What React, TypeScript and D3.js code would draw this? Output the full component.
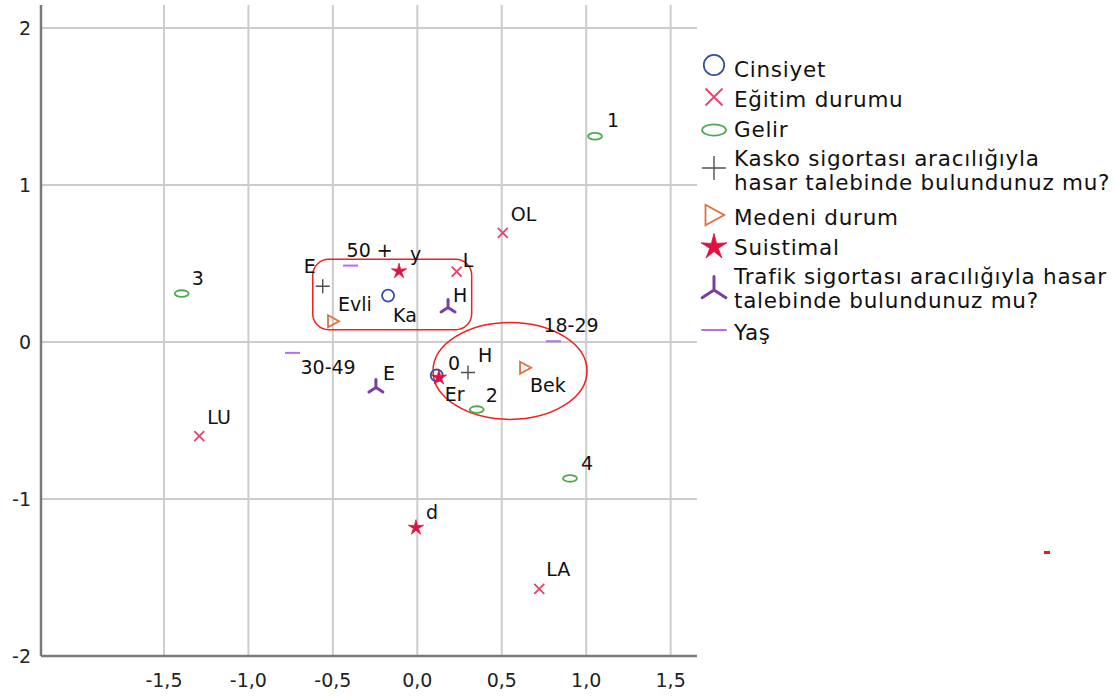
import * as d3 from "d3";

type Pt = { label: string; x: number; y: number };

// series (categories of each variable)
const cinsiyet: Pt[] = [
  { label: "Ka", x: -0.173, y: 0.296 },
  { label: "Er", x: 0.115, y: -0.213 },
];
const egitim: Pt[] = [
  { label: "OL", x: 0.506, y: 0.696 },
  { label: "L", x: 0.233, y: 0.449 },
  { label: "LU", x: -1.291, y: -0.6 },
  { label: "LA", x: 0.722, y: -1.572 },
];
const gelir: Pt[] = [
  { label: "1", x: 1.052, y: 1.311 },
  { label: "3", x: -1.395, y: 0.309 },
  { label: "2", x: 0.352, y: -0.43 },
  { label: "4", x: 0.904, y: -0.869 },
];
const kasko: Pt[] = [
  { label: "E", x: -0.56, y: 0.355 },
  { label: "H", x: 0.3, y: -0.194 },
];
const medeni: Pt[] = [
  { label: "Evli", x: -0.499, y: 0.132 },
  { label: "Bek", x: 0.638, y: -0.164 },
];
const suistimal: Pt[] = [
  { label: "y", x: -0.108, y: 0.451 },
  { label: "d", x: -0.008, y: -1.183 },
  { label: "0", x: 0.128, y: -0.226 },
];
const trafik: Pt[] = [
  { label: "H", x: 0.182, y: 0.22 },
  { label: "E", x: -0.245, y: -0.29 },
];
const yas: Pt[] = [
  { label: "50 +", x: -0.395, y: 0.487 },
  { label: "30-49", x: -0.739, y: -0.069 },
  { label: "18-29", x: 0.806, y: 0.005 },
];

const xTicks = [-1.5, -1.0, -0.5, 0, 0.5, 1.0, 1.5];
const yTicks = [2, 1, 0, -1, -2];

type Kind = "circle" | "x" | "ellipse" | "plus" | "tri" | "star" | "spoke" | "dash";

const series: { name: string[]; kind: Kind; color: string; pts: Pt[]; key: string }[] = [
  { key: "cin", name: ["Cinsiyet"], kind: "circle", color: "#3b4ea0", pts: cinsiyet },
  { key: "egi", name: ["Eğitim durumu"], kind: "x", color: "#e6416a", pts: egitim },
  { key: "gel", name: ["Gelir"], kind: "ellipse", color: "#4cab4c", pts: gelir },
  {
    key: "kas",
    name: ["Kasko sigortası aracılığıyla", "hasar talebinde bulundunuz mu?"],
    kind: "plus",
    color: "#505050",
    pts: kasko,
  },
  { key: "med", name: ["Medeni durum"], kind: "tri", color: "#e0703c", pts: medeni },
  { key: "sui", name: ["Suistimal"], kind: "star", color: "#e0103f", pts: suistimal },
  {
    key: "tra",
    name: ["Trafik sigortası aracılığıyla hasar", "talebinde bulundunuz mu?"],
    kind: "spoke",
    color: "#7a3f9e",
    pts: trafik,
  },
  { key: "yas", name: ["Yaş"], kind: "dash", color: "#b46ef0", pts: yas },
];

// label placement (px offsets from the point, label left / baseline)
const labelOffset: Record<string, [number, number]> = {
  "cin:Ka": [5, 26],
  "cin:Er": [8, 26],
  "egi:OL": [8, -12],
  "egi:L": [6, -5],
  "egi:LU": [8, -12],
  "egi:LA": [7, -13],
  "gel:1": [12, -9],
  "gel:3": [10, -9],
  "gel:2": [9, -8],
  "gel:4": [11, -8],
  "kas:E": [-19, -13],
  "kas:H": [10, -10],
  "med:Evli": [5, -10],
  "med:Bek": [5, 24],
  "sui:y": [11, -10],
  "sui:d": [10, -9],
  "sui:0": [9, -8],
  "tra:H": [5, -6],
  "tra:E": [7, -8],
  "yas:50 +": [-4, -9],
  "yas:30-49": [8, 21],
  "yas:18-29": [-10, -9],
};

const W = 1113;
const H = 697;
const plot = { left: 41, right: 697, top: 5, bottom: 656 };
const font = "'DejaVu Sans', sans-serif";

const x = d3.scaleLinear().domain([-2.228, 1.656]).range([plot.left, plot.right]);
const y = d3.scaleLinear().domain([-2, 2.147]).range([plot.bottom, plot.top]);

const fmt = (v: number) => d3.format(".1f")(v).replace(".", ",").replace("−", "-");

function starPath(r: number, ri: number) {
  const pts: [number, number][] = [];
  for (let i = 0; i < 10; i++) {
    const a = (Math.PI / 5) * i - Math.PI / 2;
    const rr = i % 2 === 0 ? r : ri;
    pts.push([Math.cos(a) * rr, Math.sin(a) * rr]);
  }
  return d3.line()(pts) + "Z";
}

function Marker({ kind, color, s }: { kind: Kind; color: string; s: number }) {
  switch (kind) {
    case "circle":
      return <circle r={6 * s} fill="none" stroke={color} strokeWidth={1.8} />;
    case "x":
      return (
        <path
          d={`M${-5 * s},${-5 * s}L${5 * s},${5 * s}M${-5 * s},${5 * s}L${5 * s},${-5 * s}`}
          stroke={color}
          strokeWidth={1.8}
        />
      );
    case "ellipse":
      return <ellipse rx={7 * s} ry={3.3 * s} fill="none" stroke={color} strokeWidth={1.8} />;
    case "plus":
      return (
        <path
          d={`M${-7 * s},0L${7 * s},0M0,${-7 * s}L0,${7 * s}`}
          stroke={color}
          strokeWidth={1.4}
        />
      );
    case "tri":
      return (
        <path
          d={`M${-5 * s},${-6 * s}L${6 * s},0L${-5 * s},${6 * s}Z`}
          fill="none"
          stroke={color}
          strokeWidth={1.8}
        />
      );
    case "star":
      return (
        <path
          d={starPath(8 * s, 2.6 * s)}
          fill={color}
          stroke={color}
          strokeWidth={0.8}
          strokeLinejoin="round"
        />
      );
    case "spoke":
      return (
        <path
          d={`M0,0L0,${-8 * s}M0,0L${-7 * s},${4.5 * s}M0,0L${7 * s},${4.5 * s}`}
          stroke={color}
          strokeWidth={3}
          strokeLinecap="round"
        />
      );
    case "dash":
      return <path d={`M${-7.5 * s},0L${7.5 * s},0`} stroke={color} strokeWidth={2} />;
  }
}

// legend rows: baseline of first line per item
const legendTop = [77, 107, 137, 166, 225, 255, 284, 340];
const legendMarkerY = [65, 97, 130, 168, 215, 247, 290, 330];

export default function App() {
  // red annotation shapes (data units)
  const boxX0 = x(-0.619);
  const boxX1 = x(0.322);
  const boxY0 = y(0.527);
  const boxY1 = y(0.079);
  const ell = { cx: x(0.549), cy: y(-0.184), rx: x(0.456) - x(0), ry: y(0) - y(0.309) };

  return (
    <svg
      width={W}
      height={H}
      style={{ position: "absolute", left: 0, top: 0, background: "#fff" }}
      fontFamily={font}
    >
      {/* grid */}
      {yTicks.map((t) => (
        <line
          key={"gy" + t}
          x1={plot.left}
          x2={plot.right}
          y1={y(t)}
          y2={y(t)}
          stroke="#cccccc"
          strokeWidth={2}
        />
      ))}
      {xTicks.map((t) => (
        <line
          key={"gx" + t}
          x1={x(t)}
          x2={x(t)}
          y1={plot.top}
          y2={plot.bottom}
          stroke="#cccccc"
          strokeWidth={2}
        />
      ))}
      {/* axes */}
      <line x1={plot.left} x2={plot.left} y1={plot.top} y2={plot.bottom} stroke="#7a7a7a" strokeWidth={2.5} />
      <line x1={plot.left} x2={plot.right} y1={plot.bottom} y2={plot.bottom} stroke="#7a7a7a" strokeWidth={2.5} />
      {yTicks.map((t) => (
        <text key={"ty" + t} x={31} y={y(t)} dy="0.36em" textAnchor="end" fontSize={19} fill="#222">
          {String(t)}
        </text>
      ))}
      {xTicks.map((t) => (
        <text key={"tx" + t} x={x(t)} y={687} textAnchor="middle" fontSize={19} fill="#222">
          {fmt(t)}
        </text>
      ))}

      {/* annotations */}
      <rect
        x={boxX0}
        y={boxY0}
        width={boxX1 - boxX0}
        height={boxY1 - boxY0}
        rx={16}
        fill="none"
        stroke="#f02020"
        strokeWidth={1.5}
      />
      <ellipse cx={ell.cx} cy={ell.cy} rx={ell.rx} ry={ell.ry} fill="none" stroke="#f02020" strokeWidth={1.5} />

      {/* points + labels */}
      {series.map((s) => (
        <g key={s.key}>
          {s.pts.map((p) => {
            const [dx, dy] = labelOffset[s.key + ":" + p.label] || [8, -10];
            return (
              <g key={p.label}>
                <g transform={`translate(${x(p.x)},${y(p.y)})`}>
                  <Marker kind={s.kind} color={s.color} s={1} />
                </g>
                <text x={x(p.x) + dx} y={y(p.y) + dy} fontSize={19} fill="#111">
                  {p.label}
                </text>
              </g>
            );
          })}
        </g>
      ))}

      {/* legend */}
      {series.map((s, i) => (
        <g key={"lg" + s.key}>
          <g transform={`translate(${714},${legendMarkerY[i]})`}>
            <Marker kind={s.kind} color={s.color} s={1.7} />
          </g>
          {s.name.map((line, j) => (
            <text
              key={j}
              x={734}
              y={legendTop[i] + j * 24}
              fontSize={21.5}
              letterSpacing={0.75}
              fill="#111"
            >
              {line}
            </text>
          ))}
        </g>
      ))}

      {/* stray red mark at the right */}
      <rect x={1044} y={551} width={6} height={3} fill="#f01818" />
    </svg>
  );
}
